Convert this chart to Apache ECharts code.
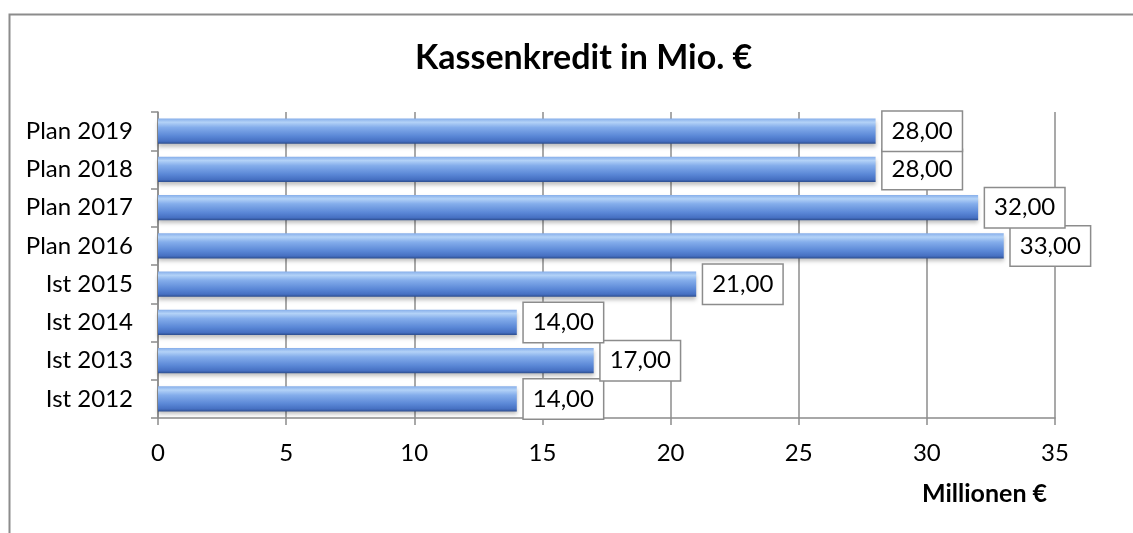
<!DOCTYPE html>
<html lang="de">
<head>
    <meta charset="UTF-8">
    <title>Kassenkredit</title>
    <style>
        html, body { margin: 0; padding: 0; background: #fff; }
    </style>
</head>
<body>
<div id="chart" style="width: 1133px;height: 533px;"></div>
<script src="https://cdn.jsdelivr.net/npm/echarts@6/dist/echarts.min.js"></script>
<script>
    var categories = ['Ist 2012', 'Ist 2013', 'Ist 2014', 'Ist 2015', 'Plan 2016', 'Plan 2017', 'Plan 2018', 'Plan 2019'];
    var values = [14, 17, 14, 21, 33, 32, 28, 28];
    var xTicks = [0, 5, 10, 15, 20, 25, 30, 35];

    var fontName = 'Lato';

    function showChart () {
        var chart = echarts.init(document.getElementById('chart'));

        var barColor = new echarts.graphic.LinearGradient(0, 0, 0, 1, [
            {offset: 0, color: '#86aeea'},
            {offset: 0.15, color: '#b3d2f7'},
            {offset: 0.35, color: '#84adeb'},
            {offset: 0.7, color: '#5a87d6'},
            {offset: 0.9, color: '#4670c2'},
            {offset: 1, color: '#2c4d8e'}
        ]);

        var option = {
            backgroundColor: '#fff',
            animation: false,
            title: {
                text: 'Kassenkredit in Mio. €',
                left: 410,
                top: 36,
                textStyle: {
                    fontFamily: fontName,
                    fontSize: 34,
                    fontWeight: 'bold',
                    color: '#000'
                }
            },
            grid: {
                left: 158,
                right: 78,
                top: 112,
                bottom: 115,
                containLabel: false
            },
            xAxis: {
                type: 'value',
                min: 0,
                max: 35,
                interval: 5,
                axisLine: {show: true, lineStyle: {color: '#8c8c8c', width: 1.5}},
                axisTick: {show: true, length: 7, lineStyle: {color: '#8c8c8c', width: 1.5}},
                splitLine: {show: true, lineStyle: {color: '#8c8c8c', width: 1.5}},
                axisLabel: {
                    margin: 23,
                    fontFamily: fontName,
                    fontSize: 24,
                    color: '#000',
                    formatter: function (v) {
                        return xTicks.indexOf(v) >= 0 ? String(v) : '';
                    }
                }
            },
            yAxis: {
                type: 'category',
                data: categories,
                axisLine: {show: true, lineStyle: {color: '#8c8c8c', width: 1.5}},
                axisTick: {show: true, length: 7, lineStyle: {color: '#8c8c8c', width: 1.5}},
                axisLabel: {
                    margin: 25,
                    fontFamily: fontName,
                    fontSize: 24,
                    color: '#000'
                }
            },
            graphic: [
                {
                    type: 'polyline',
                    shape: {points: [[9.5, 540], [9.5, 14.5], [1140, 14.5]]},
                    style: {stroke: '#8c8c8c', lineWidth: 2, fill: null},
                    silent: true
                },
                {
                    type: 'text',
                    left: 922,
                    top: 481,
                    style: {
                        text: 'Millionen €',
                        font: 'bold 25px ' + fontName,
                        fill: '#000'
                    }
                }
            ],
            series: [
                {
                    type: 'bar',
                    data: values,
                    barCategoryGap: '34%',
                    itemStyle: {
                        color: barColor,
                        shadowColor: 'rgba(0,0,0,0.25)',
                        shadowBlur: 4,
                        shadowOffsetY: 3
                    },
                    label: {
                        show: true,
                        position: 'right',
                        distance: 7,
                        fontFamily: fontName,
                        fontSize: 24,
                        color: '#000',
                        lineHeight: 25,
                        backgroundColor: '#fff',
                        borderColor: '#8c8c8c',
                        borderWidth: 1.5,
                        padding: [7, 9],
                        formatter: function (p) {
                            return p.value.toFixed(2).replace('.', ',');
                        }
                    }
                }
            ]
        };
        chart.setOption(option);
    }

    showChart();
</script>
</body>
</html>
